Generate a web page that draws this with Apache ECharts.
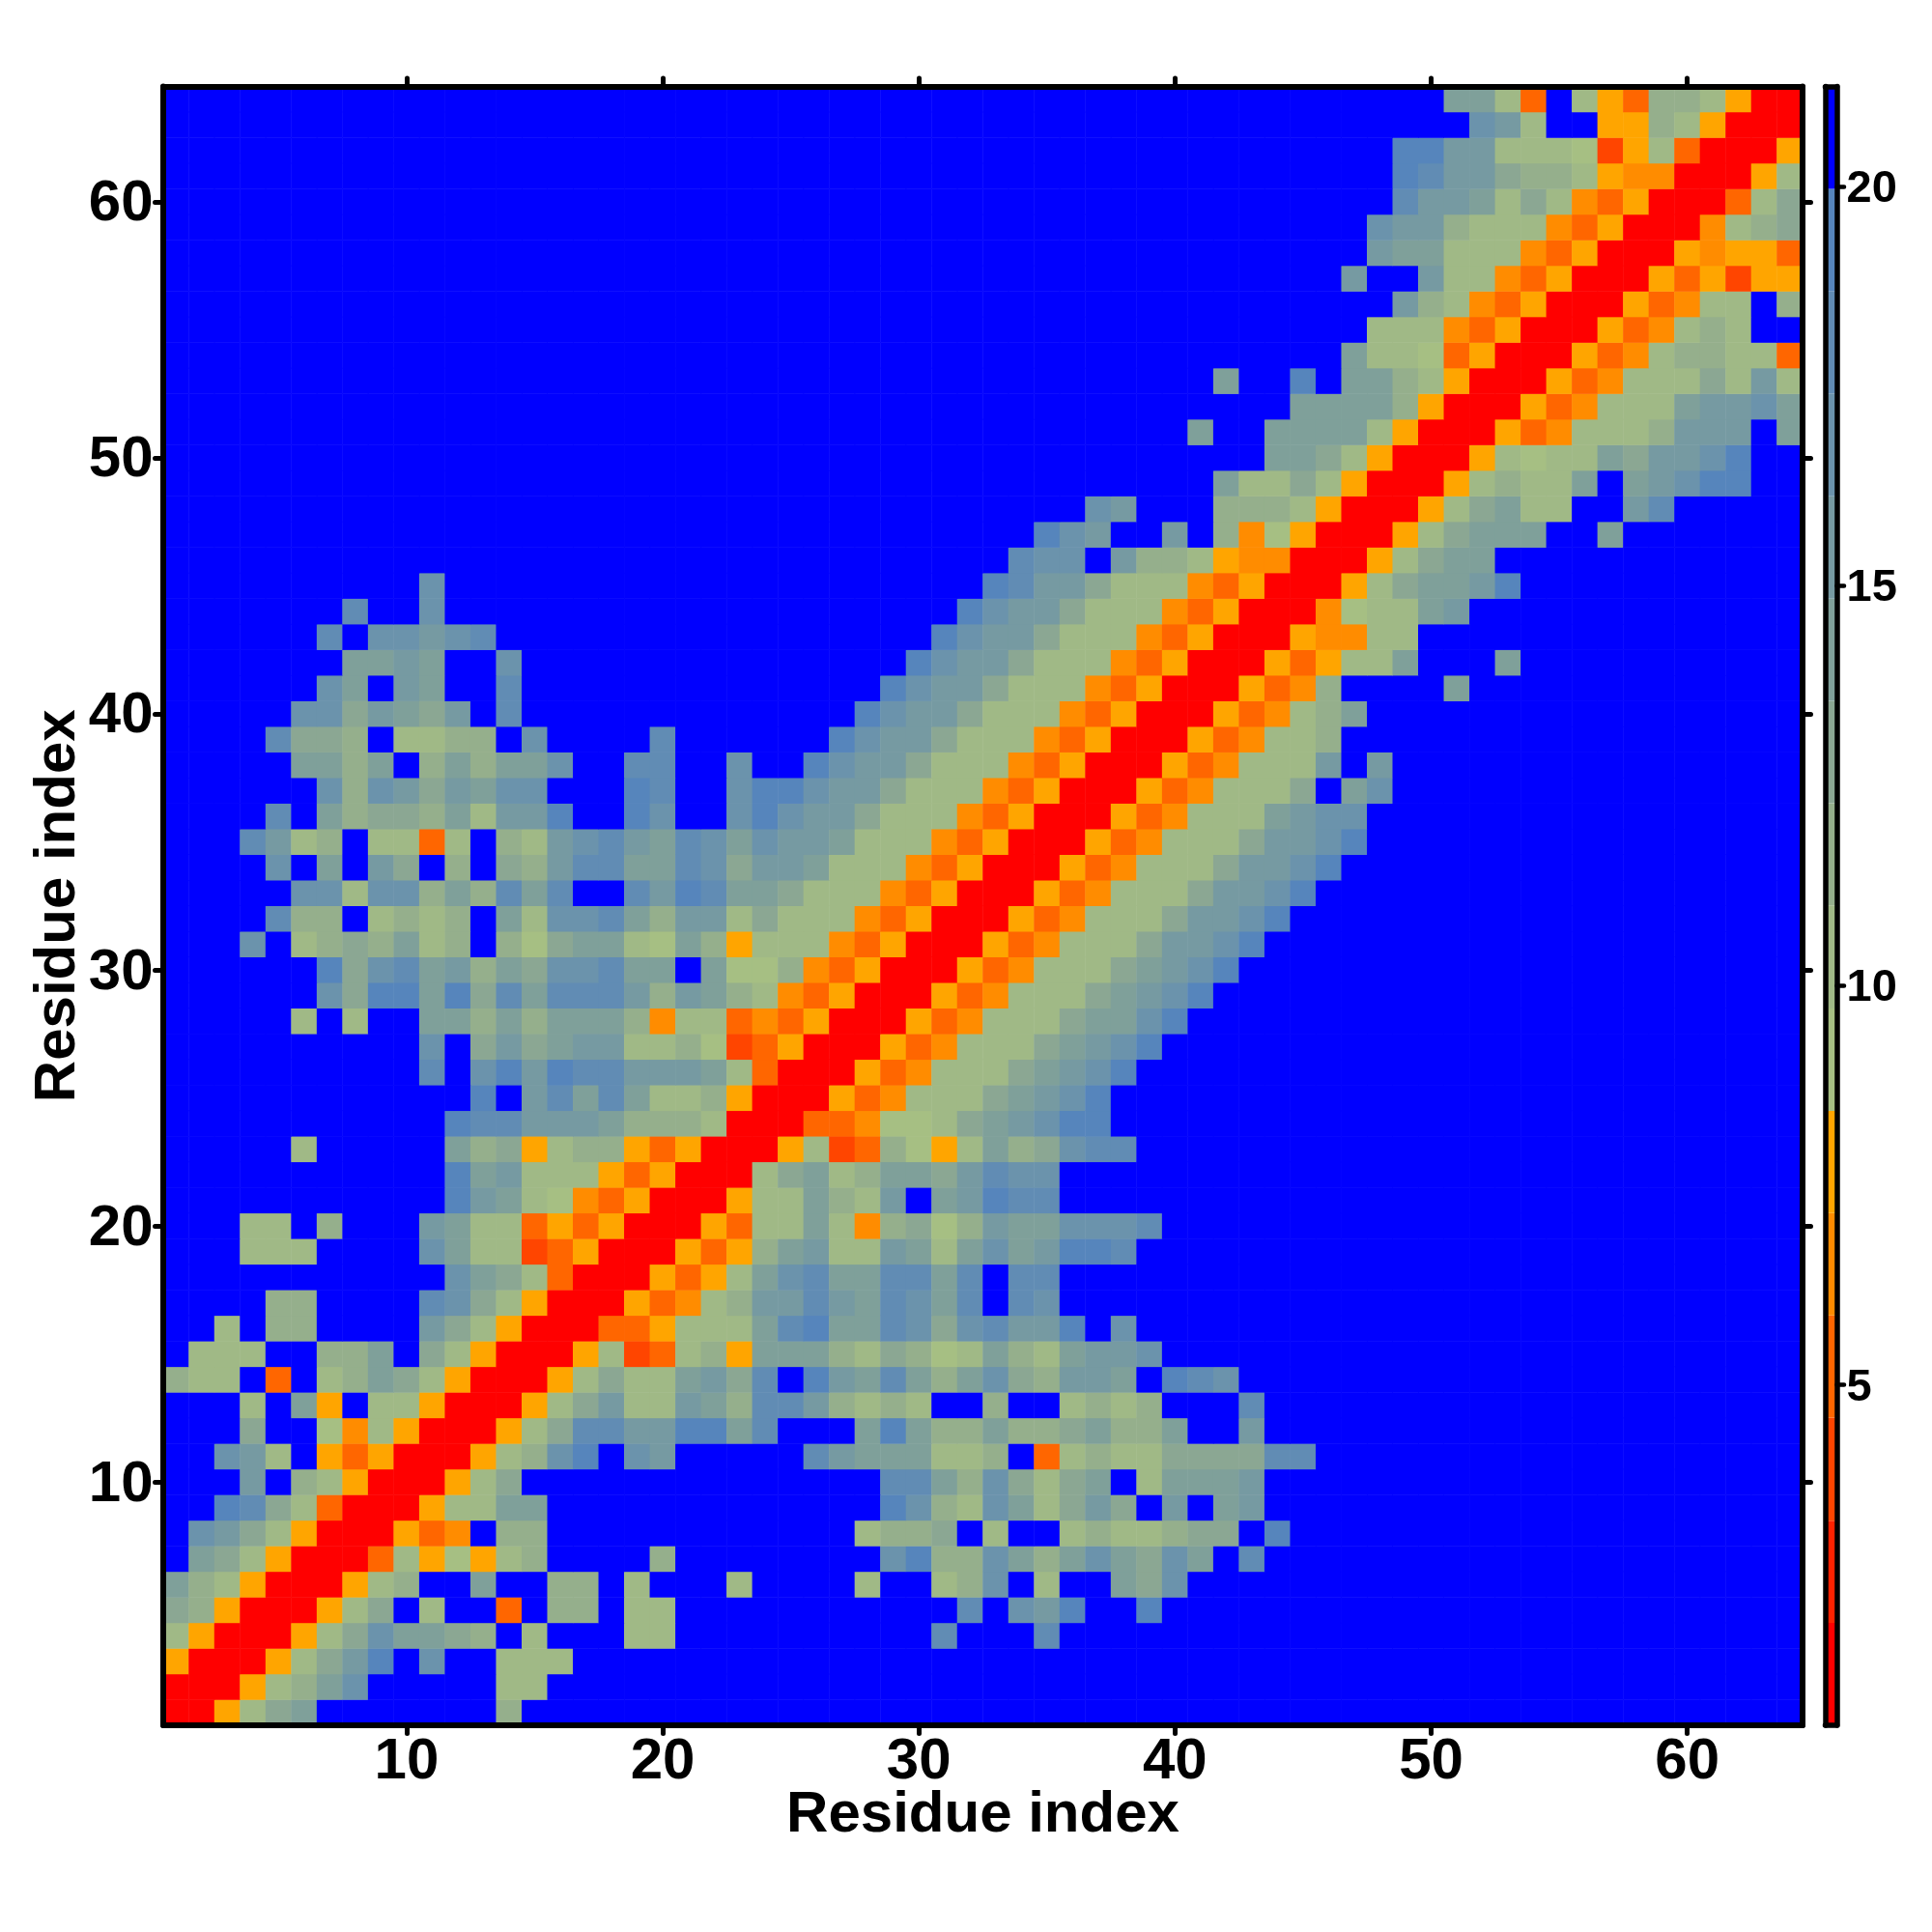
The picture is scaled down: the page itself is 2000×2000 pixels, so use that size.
<!DOCTYPE html>
<html>
<head>
<meta charset="utf-8">
<style>html,body{margin:0;padding:0;background:#fff}#c{width:2000px;height:2000px}</style>
<script src="https://cdn.jsdelivr.net/npm/echarts@6/dist/echarts.min.js"></script>
</head>
<body>
<div id="c"></div>
<script>
// Residue indices and tick labels
const residues = Array.from({length: 64}, (_, i) => String(i + 1));
const tickResidues = ['10', '20', '30', '40', '50', '60'];
const colorbarTicks = [5, 10, 15, 20];
const axisTitle = 'Residue index';

// Colour bands of the scale (16 levels)
const bandEdges = [0.74, 2.02, 3.30, 4.59, 5.87, 7.15, 8.43, 9.71, 11.00, 12.28, 13.56, 14.84, 16.12, 17.41, 18.69, 19.97, 21.25];
const bandValues = [1.4, 2.7, 3.9, 5.2, 6.5, 7.8, 9.1, 10.4, 11.6, 12.9, 14.2, 15.5, 16.8, 18.0, 19.3, 20.6];
const bandColors = ['#FF0000', '#FF2200', '#FF4500', '#FF6600', '#FF8C00', '#FFA500',
  '#A6BF83', '#A0B986', '#95AF8C', '#8BA793', '#7FA09A', '#769AA2', '#6B93AC', '#618CB4', '#5685BC', '#0000FF'];

// Band index of every cell, hex digit per residue ('.' = top band, blue).
// Row n, bottom to top; segments: residues 1-22 | 23-44 | 45-64, trailing blue omitted.
const cellBands = [
"00 5 7 9 a ....... 8||",
"000 5 7 8 a c ..... 77||",
"5 000 5 7 9 b e . c .. 777||",
"7 5 000 5 7 9 c a a 9 8 . 7 ... 77|........ d ... d|",
"9 8 5 000 5 7 9 . 7 .. 3 . 88 . 77|......... d . c b e .. e|",
"a 8 7 5 000 5 7 8 .. a .. 88 . 7|7 .... 7 .. 7 8 c . 7 .. a 9 c|",
". a 9 7 5 000 3 7 5 6 5 7 8 .... 8|...... c e 8 8 c a 8 a c a 9 c a . d|",
". c b 9 7 5 000 5 3 4 . 88|..... 7 8 8 9 . 7 .. 7 8 7 7 8 9 9 . e|",
".. e d 9 7 3 000 5 77 aa|...... e c 8 7 c a 7 9 b 9 . b . a b|",
"... b . 8 7 5 000 5 7 9|...... d d a 8 c 9 7 9 a . 7 a a a b|",
".. c b 7 . 5 3 5 000 5 7 8 c e . c b|... d b a a a 7 7 8 . 3 7 8 7 7 9 9 9 9 d|d",
"... 9 .. 6 4 7 5 000 5 7 9 d d b b e e|a d ... a e a 88 a 8 8 9 a 8 8 a .. b|",
"... 7 . a 5 . 77 5 000 5 7 9 b 77 b a|8 d d b 8 7 8 7 .. 8 .. 7 8 7 8 ... d|",
"8 77 . 3 . 7 8 a 9 7 5 000 5 7 9 77 a b|9 d . e b a d a 8 a c 9 8 b b a . e d c|",
". 777 .. 88 a . 9 7 5 000 5 7 2 3 7 8|5 a a a 8 7 9 8 6 7 a 8 7 a b b c|",
".. 7 . 88 .... b 9 7 5 000 33 5 77|7 a d e a a d c 9 c d b b e . c|",
".... 88 .... d c 9 7 5 000 5 3 4 7|8 b b d b a d c a d . d c|",
"........... c a 9 7 3 000 5 3 5|7 a c d aa d d a d . dd|",
"... 777 .... c a 77 2 3 5 000 5 3|5 8 a b 77 b a 7 a c a b e e d|",
"... 77 . 8 ... b a 77 3 5 3 5 000 5|3 77 a 7 4 8 9 6 8 b aa c c c d|",
"........... e b a 7 6 4 3 5 000|5 7 7 a 8 7 b . a b e d d|",
"........... e a b 7 7 7 5 3 5 00|0 7 9 a 7 8 a a 9 b d c c|",
"..... 7 ..... a 8 9 5 7 8 8 5 3 5 0|00 5 7 2 3 8 6 5 7 a 8 9 c d d|",
"........... e d d b b b a 8 8 8 7|000 33 4 6 6 7 9 a b c e e|",
"............ e . b d a d a 7 7 8|5 000 5 3 4 777 9 a b c e|",
".......... d . c e b e d d b b b a|7 3 000 5 3 4 777 9 a b c e|",
".......... c . 9 b 9 a b b 7 7 8 6|2 3 5 000 5 3 4 777 9 a b c e|",
"..... 7 . 7 .. a a 8 a 8 a a a 8 4 77|3 4 3 5 000 5 3 4 777 9 a a c e|",
"...... c 9 e e a e 9 d a d d d b 8 b a|8 7 4 3 5 000 5 3 4 777 9 a b c e|",
"...... e 9 c d a b 8 a 9 c c d a a . a|6 6 8 4 3 5 000 5 3 4 777 9 a b c e|",
"... c . 7 8 9 8 a 7 8 . 8 6 9 a a 7 6 a 8|5 777 4 3 5 000 5 3 4 777 9 b b c e|",
".... d 88 . 7 8 7 8 . a 7 c c d a 8 b b|7 9 777 4 3 5 000 5 3 4 777 9 b b c e|",
"..... c c 7 c c 8 a 8 d a d .. d b e d|a a 9 777 4 3 5 000 5 3 4 777 9 b b c|e",
".... c . a . b 9 . 8 . 9 8 b d d a a d c|9 b b a 777 4 3 5 000 5 3 4 777 9 b b|c e",
"... d b 7 8 . 7 7 3 7 . 8 7 b c d b a d c|a c b b a 777 4 3 5 000 5 3 4 777 9 b|b c e",
".... d . a 8 9 9 8 a 7 b b e .. e c|c e c b b 9 777 4 3 5 000 5 3 4 777 a|b c c",
"...... c 8 c b 9 b a c c ... e d|c e e c b b 9 777 4 3 5 000 5 3 4 777|9 . a c",
"..... a a 8 a . 8 a 8 a a c .. d d|c .. e c b b 9 777 4 3 5 000 5 3 4 77|7 b . b",
".... d 9 9 8 . 7 7 8 8 . c .... d|.... e c b b 9 777 4 3 5 000 5 3 4 7|7 8",
"..... c c 9 b a 9 b . d|..... e c b b 9 777 4 3 5 000 5 3 4|7 8 a",
"...... c a . b a .. d|...... e c b b 9 777 4 3 5 000 5 3|4 8 .... a",
"....... a a b a .. c|....... e c b b 9 777 4 3 5 000 5|3 5 7 7 a ... a",
"...... d . c c b c d|........ e c b b 9 777 4 3 5 000|5 4 4 7 7",
"....... d .. c|......... e c b b 9 777 4 3 5 00|0 4 6 7 7 a b",
".......... c|.......... e d b b 9 777 4 3 5 0|00 5 7 9 a a b e",
"|........... d c c . b 8 8 7 5 4 4|000 5 7 9 a a",
"|............ e c b .. b . 8 4 6|5 000 5 7 9 a a a .. a",
"|.............. c b ... 8 8 8|7 5 000 5 7 9 a 77 .. b d",
"|................... a 7 7|9 7 5 000 5 7 8 7 7 a . a b c e e",
"|..................... a|a 9 7 5 000 5 7 6 77 a 9 b b c e",
"|.................. a .. a|a a a 7 5 000 5 3 4 777 8 b b b . a",
"||a a a a 8 5 000 5 3 4 777 a b b c a",
"|................... a|e . a a 8 7 5 000 5 3 4 777 9 7 b 7",
"||.. a 7 7 6 3 5 000 5 3 4 7 8 8 7 7 3",
"||... 777 4 3 5 000 5 3 4 7 8 7",
"||.... b 8 7 4 3 5 000 5 3 4 7 7 . 8",
"||.. b .. b 77 4 3 5 000 5 3 5 2 5 5",
"||... b a a 777 4 3 5 000 5 4 5 5 3",
"||... c b b 8 777 4 3 5 000 4 7 8 9",
"||.... d b b a 7 9 7 4 3 5 000 3 7 9",
"||.... e d b b 9 8 8 7 5 4 4 000 5 7",
"||.... e e b b 7 7 7 6 2 5 7 3 000 5",
"||....... c b 7 .. 5 5 8 7 5 000",
"||...... a a 7 3 . 7 5 3 8 8 7 5 00"
];

// Build the table the library needs
const segLens = [22, 22, 20];
const heatData = [];
cellBands.forEach((row, r) => {
  const parts = row.split('|');
  const line = parts.map((p, i) => p.replace(/ /g, '').padEnd(segLens[i], '.')).join('');
  for (let c = 0; c < 64; c++) {
    const ch = line[c] || '.';
    const band = ch === '.' ? 15 : parseInt(ch, 16);
    heatData.push([c, r, bandValues[band]]);
  }
});
const barData = bandColors.map((_, i) => [bandEdges[i], bandEdges[i + 1], i]);

const font = {fontFamily: '"Liberation Sans", Arial, sans-serif', fontWeight: 'bold', color: '#000'};
const isTick = (i, v) => tickResidues.includes(String(v));
const border = {show: true, onZero: false, lineStyle: {color: '#000', width: 6, cap: 'round'}};
const tick = {show: true, inside: false, length: 8.5, interval: isTick, alignWithLabel: true,
  lineStyle: {color: '#000', width: 5, cap: 'round'}};

function cat(extra) {
  return Object.assign({type: 'category', data: residues, gridIndex: 0, z: 5, boundaryGap: true,
    axisLine: border, axisTick: tick, splitLine: {show: false}, splitArea: {show: false}}, extra);
}
const barBorder = {show: true, onZero: false, lineStyle: {color: '#000', width: 5.5, cap: 'round'}};

const option = {
  backgroundColor: '#fff',
  animation: false,
  grid: [
    {left: 169, top: 89.5, width: 1697, height: 1696.5, containLabel: false, outerBoundsMode: 'none'},
    {left: 1889.5, top: 89.5, width: 12, height: 1696.5, containLabel: false, outerBoundsMode: 'none'}
  ],
  xAxis: [
    cat({position: 'bottom',
      name: axisTitle, nameLocation: 'middle', nameGap: 63, nameMoveOverlap: false,
      nameTextStyle: Object.assign({fontSize: 60}, font),
      axisLabel: Object.assign({show: true, interval: isTick, fontSize: 60, margin: 8}, font)}),
    cat({position: 'top', axisLabel: {show: false}}),
    {type: 'value', gridIndex: 1, min: 0, max: 1, position: 'bottom', z: 5, axisLine: barBorder,
      axisTick: {show: false}, axisLabel: {show: false}, splitLine: {show: false}},
    {type: 'value', gridIndex: 1, min: 0, max: 1, position: 'top', z: 5, axisLine: barBorder,
      axisTick: {show: false}, axisLabel: {show: false}, splitLine: {show: false}}
  ],
  yAxis: [
    cat({position: 'left',
      name: axisTitle, nameLocation: 'middle', nameGap: 79, nameRotate: 90, nameMoveOverlap: false,
      nameTextStyle: Object.assign({fontSize: 60}, font),
      axisLabel: Object.assign({show: true, interval: isTick, fontSize: 60, lineHeight: 60, margin: 10.5,
        verticalAlign: 'top', padding: [-27, 0, 0, 0]}, font)}),
    cat({position: 'right', axisLabel: {show: false}}),
    {type: 'value', gridIndex: 1, min: bandEdges[0], max: bandEdges[16], position: 'left', z: 5,
      axisLine: barBorder, axisTick: {show: false}, axisLabel: {show: false}, splitLine: {show: false}},
    {type: 'value', gridIndex: 1, min: bandEdges[0], max: bandEdges[16], position: 'right', z: 5,
      axisLine: barBorder,
      axisTick: {show: true, length: 7.5, customValues: colorbarTicks, lineStyle: {color: '#000', width: 4.5, cap: 'round'}},
      axisLabel: Object.assign({show: true, customValues: colorbarTicks, fontSize: 47, lineHeight: 47, margin: 10,
        verticalAlign: 'top', padding: [-20.5, 0, 0, 0], formatter: v => String(v)}, font),
      splitLine: {show: false}}
  ],
  visualMap: {
    show: false, type: 'piecewise', seriesIndex: 0, dimension: 2,
    pieces: bandColors.map((col, i) => ({gte: bandEdges[i], lt: bandEdges[i + 1], color: col}))
  },
  series: [
    {type: 'heatmap', xAxisIndex: 0, yAxisIndex: 0, data: heatData, progressive: 0, silent: true,
      itemStyle: {borderWidth: 0}, emphasis: {disabled: true}},
    {type: 'custom', xAxisIndex: 2, yAxisIndex: 2, data: barData, silent: true, clip: false,
      encode: {y: [0, 1]},
      renderItem(params, api) {
        const p0 = api.coord([0, api.value(0)]);
        const p1 = api.coord([1, api.value(1)]);
        return {type: 'rect', shape: {x: p0[0], y: p1[1], width: p1[0] - p0[0], height: p0[1] - p1[1]},
          style: {fill: bandColors[api.value(2)]}};
      }}
  ]
};
const chart = echarts.init(document.getElementById('c'), null, {renderer: 'canvas', width: 2000, height: 2000});
chart.setOption(option);
</script>
</body>
</html>
